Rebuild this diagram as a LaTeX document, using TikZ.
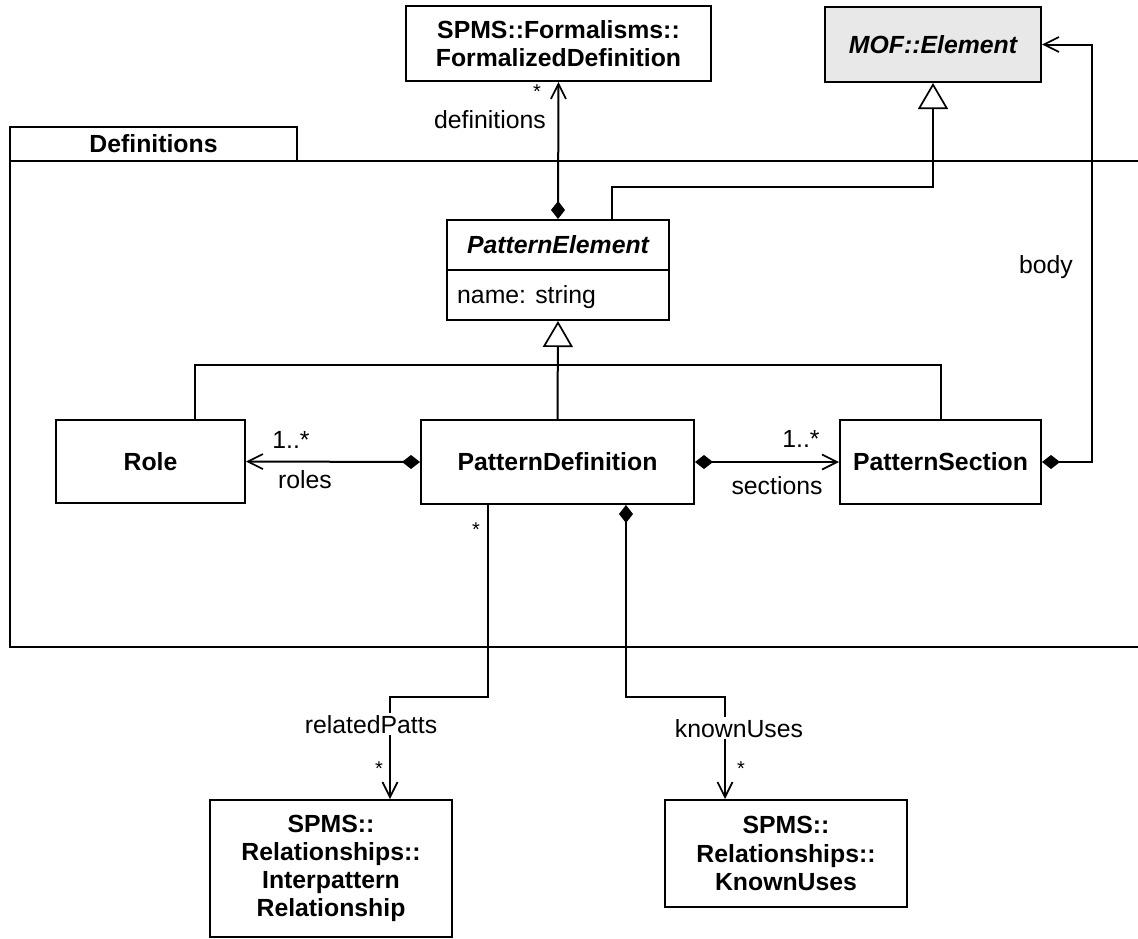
\documentclass[tikz,border=0pt]{standalone}
\usepackage{fontspec}
\setmainfont{Liberation Sans}
\usetikzlibrary{arrows.meta}
\newcommand{\umlbold}{\fontsize{24.8}{28.2}\selectfont\bfseries}
\newcommand{\umlreg}{\fontsize{24.8}{28.2}\selectfont}
\newcommand{\umlstar}{\fontsize{20}{24}\selectfont}
\definecolor{mofgray}{HTML}{E8E8E8}
\begin{document}
\begin{tikzpicture}[x=1pt,y=1pt,
  box/.style={draw, line width=2pt, inner sep=0pt, align=center, font=\umlbold, fill=white},
  lbl/.style={font=\umlreg, anchor=base, inner sep=0pt},
  star/.style={font=\umlstar, anchor=base, inner sep=0pt},
  lblw/.style={font=\umlreg, anchor=base, inner sep=2pt, fill=white},
  conn/.style={line width=2pt},
  assoc/.style={conn, -{Straight Barb[length=15pt,width=15pt,line width=1.7pt]}},
  comp/.style={conn, {Diamond[length=18pt,width=14pt]}-{Straight Barb[length=15pt,width=15pt,line width=1.7pt]}},
  gen/.style={conn, -{Triangle[open,fill=white,length=26pt,width=30pt,line width=1.7pt]}},
  pkg/.style={line width=2pt}]
\useasboundingbox (0,0) rectangle (1138,-938);

% package
\draw[pkg] (1150,-161) -- (10,-161) -- (10,-647) -- (1150,-647);
\node[box, minimum width=287pt, minimum height=34pt] (pkgtab) at (153.5,-144) {Definitions};

% classes
\node[box, minimum width=305pt, minimum height=75pt] (fd) at (558.5,-43.5) {SPMS::Formalisms::\\FormalizedDefinition};
\node[box, fill=mofgray, minimum width=216pt, minimum height=75pt, font=\umlbold\itshape] (mof) at (933,-44.5) {MOF::Element};
\node[box, minimum width=222pt, minimum height=50pt, font=\umlbold\itshape] (pe) at (558,-245) {PatternElement};
\node[box, minimum width=222pt, minimum height=50pt] (peattr) at (558,-295) {};
\node[lbl, anchor=base west] (peattrtxt) at (457,-303) {name: string};
\node[box, minimum width=189pt, minimum height=83pt] (role) at (150.5,-461.5) {Role};
\node[box, minimum width=273pt, minimum height=84pt] (pd) at (557.5,-462) {PatternDefinition};
\node[box, minimum width=201pt, minimum height=84pt] (ps) at (940.5,-462) {PatternSection};
\node[box, minimum width=242pt, minimum height=137pt] (ipr) at (331,-868.5) {SPMS::\\Relationships::\\Interpattern\\Relationship};
\node[box, minimum width=242pt, minimum height=107pt] (ku) at (786,-853.5) {SPMS::\\Relationships::\\KnownUses};

% definitions
\draw[comp] (pe.north) -- (fd.south);
\node[lbl] (ldef) at (490,-128) {definitions};
\node[star] (ldefm) at (537,-98) {*};

% generalization PatternElement -> MOF::Element
\draw[gen] ([xshift=166pt]pe.north west) -- ++(0,32) -| (mof.south);

% generalization tree
\coordinate (genj) at (558,-365);
\draw[conn] ([xshift=140pt]role.north west) |- (genj) -| ([xshift=101.5pt]ps.north west);
\draw[gen] (pd.north) -- (peattr.south);

% roles
\draw[comp] (pd.west) -- (role.east);
\node[lbl] (lrolem) at (291,-448) {1..*};
\node[lbl] (lrole) at (305,-488) {roles};

% sections
\draw[comp] (pd.east) -- (ps.west);
\node[lbl] (lsecm) at (801,-447) {1..*};
\node[lbl] (lsec) at (777,-494) {sections};

% body
\draw[comp] (ps.east) -- ++(50,0) |- (mof.east);
\node[lbl] (lbody) at (1046,-273) {body};

% relatedPatts
\draw[assoc] ([xshift=68pt]pd.south west) -- ++(0,-192) -| ([xshift=181pt]ipr.north west);
\node[star] (lrpm1) at (476,-536) {*};
\node[lblw] (lrp) at (371,-733) {relatedPatts};
\node[star] (lrpm2) at (379,-775) {*};

% knownUses
\draw[comp] ([xshift=206pt]pd.south west) -- ++(0,-192) -| ([xshift=61pt]ku.north west);
\node[lblw] (lku) at (739,-737) {knownUses};
\node[star] (lkum) at (741,-775) {*};
\end{tikzpicture}
\end{document}
